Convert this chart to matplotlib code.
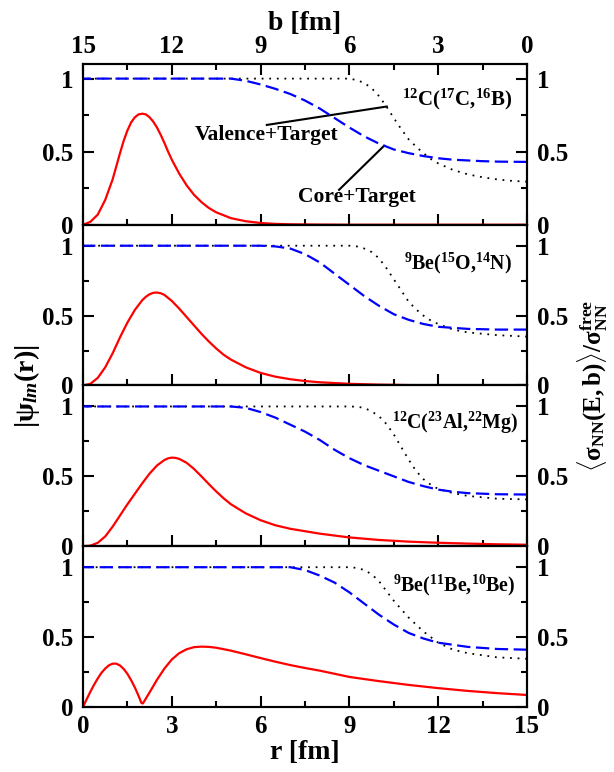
import matplotlib
matplotlib.use('Agg')
import matplotlib.pyplot as plt
from matplotlib.ticker import MultipleLocator, FixedLocator

plt.rcParams.update({
    'font.family': 'Liberation Serif',
    'font.weight': 'bold',
    'mathtext.fontset': 'custom',
    'mathtext.rm': 'Liberation Serif:bold',
    'mathtext.bf': 'Liberation Serif:bold',
    'mathtext.it': 'Liberation Serif:italic',
    'mathtext.default': 'rm',
})

# ---------------- data ----------------
panel_labels = [r'$^{12}$C($^{17}$C,$^{16}$B)',
                r'$^{9}$Be($^{15}$O,$^{14}$N)',
                r'$^{12}$C($^{23}$Al,$^{22}$Mg)',
                r'$^{9}$Be($^{11}$Be,$^{10}$Be)']

# wave functions |psi_lm(r)| vs r [fm]
r_wf1 = [0, 0.25, 0.5, 0.75, 1, 1.125, 1.25, 1.375, 1.5, 1.625, 1.75, 1.875, 2, 2.125, 2.25, 2.375, 2.5,
         2.625, 2.75, 2.875, 3, 3.25, 3.5, 3.75, 4, 4.25, 4.5, 5, 5.5, 6, 6.5, 7, 8, 9, 15]
wf1 = [0, 0.02, 0.07, 0.17, 0.31, 0.40, 0.49, 0.575, 0.645, 0.70, 0.735, 0.755, 0.76, 0.755, 0.735, 0.705, 0.665,
       0.615, 0.56, 0.5, 0.445, 0.35, 0.27, 0.205, 0.155, 0.115, 0.085, 0.045, 0.024, 0.012, 0.006, 0.003, 0.001, 0, 0]

r_wf2 = [0, 0.25, 0.5, 0.75, 1, 1.25, 1.5, 1.75, 2, 2.125, 2.25, 2.375, 2.5, 2.625, 2.75, 3, 3.25, 3.5, 3.75,
         4, 4.25, 4.5, 4.75, 5, 5.5, 6, 6.5, 7, 7.5, 8, 9, 10, 11, 12, 13, 15]
wf2 = [0, 0.012, 0.055, 0.13, 0.23, 0.345, 0.45, 0.54, 0.61, 0.635, 0.653, 0.663, 0.665, 0.66, 0.648, 0.605, 0.55,
       0.49, 0.43, 0.37, 0.315, 0.265, 0.22, 0.185, 0.13, 0.09, 0.063, 0.045, 0.032, 0.023, 0.012, 0.006, 0.003,
       0.0015, 0.0005, 0]

r_wf3 = [0, 0.25, 0.5, 0.75, 1, 1.25, 1.5, 1.75, 2, 2.25, 2.5, 2.75, 2.875, 3, 3.125, 3.25, 3.5, 3.75, 4, 4.25,
         4.5, 4.75, 5, 5.5, 6, 6.5, 7, 8, 9, 10, 11, 12, 13, 14, 15]
wf3 = [0, 0.004, 0.025, 0.07, 0.14, 0.22, 0.3, 0.375, 0.45, 0.52, 0.578, 0.617, 0.629, 0.634, 0.632, 0.625, 0.597,
       0.553, 0.5, 0.445, 0.392, 0.343, 0.3, 0.235, 0.186, 0.15, 0.125, 0.09, 0.063, 0.045, 0.033, 0.025, 0.019,
       0.014, 0.011]

r_wf4 = [0, 0.125, 0.25, 0.375, 0.5, 0.625, 0.75, 0.875, 1, 1.125, 1.25, 1.375, 1.5, 1.625, 1.75, 1.85, 1.92,
         1.97, 2.02, 2.08, 2.15, 2.25, 2.5, 2.75, 3, 3.25, 3.5, 3.75, 4, 4.25, 4.5, 5, 5.5, 6, 6.5, 7, 7.5, 8,
         9, 10, 11, 12, 13, 14, 15]
wf4 = [0, 0.056, 0.11, 0.16, 0.205, 0.245, 0.275, 0.298, 0.31, 0.31, 0.297, 0.272, 0.237, 0.192, 0.14, 0.093,
       0.057, 0.03, 0.025, 0.045, 0.07, 0.105, 0.195, 0.275, 0.34, 0.385, 0.413, 0.428, 0.432, 0.43, 0.424,
       0.403, 0.377, 0.35, 0.324, 0.3, 0.279, 0.26, 0.215, 0.185, 0.158, 0.135, 0.115, 0.099, 0.086]

# Core+Target <sigma_NN>/sigma_free vs b [fm]
b_core1 = [0, 0.5, 1, 1.5, 2, 2.5, 3, 3.5, 4, 4.5, 5, 5.5, 6, 6.5, 7, 7.5, 8, 8.5, 9, 9.5, 10, 15]
core1 = [0.43, 0.431, 0.432, 0.435, 0.44, 0.445, 0.455, 0.47, 0.49, 0.515, 0.555, 0.605, 0.665, 0.73, 0.795, 0.85,
         0.895, 0.93, 0.96, 0.985, 1, 1]
b_core2 = [0, 1, 2, 3, 3.5, 4, 4.5, 5, 5.5, 6, 6.5, 7, 7.5, 8, 8.5, 9, 15]
core2 = [0.40, 0.40, 0.405, 0.42, 0.44, 0.47, 0.51, 0.57, 0.64, 0.72, 0.80, 0.88, 0.94, 0.98, 0.995, 1, 1]
b_core3 = [0, 1, 2, 2.5, 3, 3.5, 4, 4.5, 5, 5.5, 6, 6.5, 7, 7.5, 8, 8.5, 9, 9.5, 10, 15]
core3 = [0.37, 0.372, 0.38, 0.39, 0.405, 0.43, 0.46, 0.50, 0.54, 0.58, 0.63, 0.69, 0.76, 0.82, 0.87, 0.92, 0.96,
         0.99, 1, 1]
b_core4 = [0, 1, 2, 3, 3.5, 4, 4.5, 5, 5.5, 6, 6.5, 7, 7.5, 8, 15]
core4 = [0.41, 0.415, 0.43, 0.46, 0.49, 0.53, 0.59, 0.66, 0.74, 0.82, 0.89, 0.94, 0.98, 1, 1]

# Valence+Target vs b [fm]
b_val1 = [0, 0.5, 1, 1.5, 2, 2.5, 3, 3.25, 3.5, 3.75, 4, 4.25, 4.5, 4.75, 5, 5.25, 5.5, 5.75, 6, 15]
val1 = [0.295, 0.30, 0.31, 0.325, 0.345, 0.375, 0.42, 0.45, 0.49, 0.535, 0.585, 0.655, 0.73, 0.81, 0.88, 0.935,
        0.97, 0.99, 1, 1]
b_val2 = [0, 1, 2, 2.5, 3, 3.25, 3.5, 3.75, 4, 4.25, 4.5, 4.75, 5, 5.25, 5.5, 5.75, 6, 15]
val2 = [0.35, 0.36, 0.38, 0.40, 0.44, 0.465, 0.50, 0.545, 0.60, 0.68, 0.76, 0.84, 0.91, 0.955, 0.98, 0.995, 1, 1]
b_val3 = [0, 1, 2, 2.5, 3, 3.25, 3.5, 3.75, 4, 4.25, 4.5, 4.75, 5, 5.25, 5.5, 5.75, 6, 15]
val3 = [0.335, 0.34, 0.36, 0.38, 0.41, 0.44, 0.48, 0.54, 0.62, 0.71, 0.80, 0.875, 0.93, 0.965, 0.99, 0.998, 1, 1]
b_val4 = [0, 1, 2, 2.5, 3, 3.5, 4, 4.5, 4.75, 5, 5.25, 5.5, 5.75, 6, 15]
val4 = [0.345, 0.355, 0.385, 0.41, 0.46, 0.54, 0.64, 0.76, 0.83, 0.90, 0.95, 0.98, 0.995, 1, 1]

r_wf = [r_wf1, r_wf2, r_wf3, r_wf4]
wf = [wf1, wf2, wf3, wf4]
b_core = [b_core1, b_core2, b_core3, b_core4]
core = [core1, core2, core3, core4]
b_val = [b_val1, b_val2, b_val3, b_val4]
val = [val1, val2, val3, val4]

y_tops = [1.1, 1.15, 1.15, 1.15]
label_pos = [(14.5, 0.82), (14.5, 0.83), (14.7, 0.84), (14.6, 0.83)]
label_fs = [15, 14.3, 14.3, 14.3]

# ---------------- figure ----------------
fig, axes = plt.subplots(4, 1, figsize=(6.14, 7.72), dpi=100, sharex=True,
                         gridspec_kw={'hspace': 0})
fig.subplots_adjust(left=0.1352, right=0.8583, top=0.9171, bottom=0.0842)

tick_fs = 18
for i, ax in enumerate(axes):
    axb = ax.twiny()
    axb.plot(b_val[i], val[i], color='black', lw=1.3, ls=(0, (1, 3.2)))
    axb.plot(b_core[i], core[i], color='blue', lw=1.6, ls=(0, (6, 2.5)))
    ax.plot(r_wf[i], wf[i], color='red', lw=1.6)
    axb.set_xlim(15, 0)
    ax.set_xlim(0, 15)
    ax.set_ylim(0, y_tops[i])

    ax.xaxis.set_major_locator(MultipleLocator(3))
    ax.xaxis.set_minor_locator(MultipleLocator(1.5))
    ax.yaxis.set_major_locator(FixedLocator([0, 0.5, 1]))
    ax.set_yticklabels(['0', '0.5', '1'])
    ax.yaxis.set_minor_locator(FixedLocator([0.25, 0.75]))
    ax.tick_params(axis='both', which='both', direction='in', top=False,
                   right=True, labelright=True, width=1.5, labelsize=tick_fs)
    ax.tick_params(axis='both', which='major', length=8)
    ax.tick_params(axis='both', which='minor', length=4)
    ax.tick_params(axis='y', which='major', pad=7)
    ax.tick_params(axis='x', which='major', pad=6)

    if i == 0:
        axb.xaxis.set_major_locator(MultipleLocator(3))
        axb.xaxis.set_minor_locator(MultipleLocator(1.5))
        axb.tick_params(axis='x', which='both', direction='in', width=1.5,
                        labelsize=tick_fs, pad=4)
        axb.tick_params(axis='x', which='major', length=8)
        axb.tick_params(axis='x', which='minor', length=4)
        axb.set_xlabel('b [fm]', fontsize=20, fontweight='bold', labelpad=4)
    else:
        axb.tick_params(axis='x', which='both', top=False, labeltop=False)

    for sp in list(ax.spines.values()) + list(axb.spines.values()):
        sp.set_linewidth(1.5)

    lx, ly = label_pos[i]
    ax.text(lx, ly, panel_labels[i], ha='right', va='baseline', fontsize=label_fs[i],
            fontweight='bold')

# leader lines and annotations in the top panel
ax0 = axes[0]
ax0.plot([6.21, 10.26], [0.683, 0.809], color='black', lw=1.5)
ax0.plot([8.65, 10.17], [0.239, 0.54], color='black', lw=1.5)
ax0.text(6.2, 0.58, 'Valence+Target', ha='center', va='baseline', fontsize=15.5,
         fontweight='bold')
ax0.text(9.24, 0.153, 'Core+Target', ha='center', va='baseline', fontsize=15.5,
         fontweight='bold')

axes[-1].set_xlabel('r [fm]', fontsize=20, fontweight='bold', labelpad=1)

fig.text(0.044, 0.5, r'$|\psi_{\mathit{lm}}(\mathbf{r})|$', rotation=90,
         ha='center', va='center', fontsize=20)
fig.text(0.966, 0.5, r'$\langle\sigma_{NN}(E,b)\rangle/\sigma_{NN}^{free}$',
         rotation=90, ha='center', va='center', fontsize=18)

fig.savefig('out.png', dpi=100)
